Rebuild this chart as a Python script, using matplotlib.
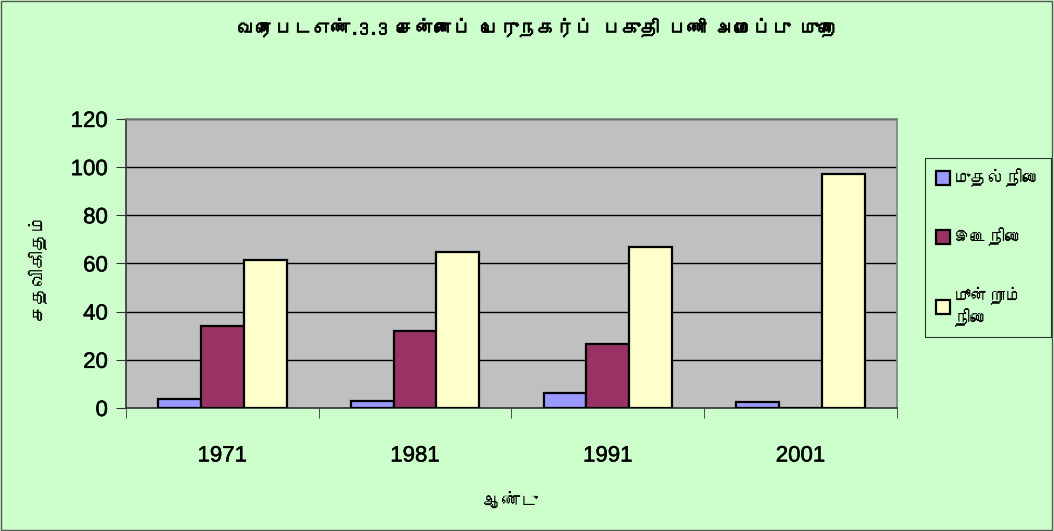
import numpy as np
import matplotlib.pyplot as plt
import matplotlib.patheffects as pe
from matplotlib import font_manager
from matplotlib.ft2font import FT2Font

years = ['1971', '1981', '1991', '2001']
series_names = ['முதல்நிலை', 'இடைநிலை', 'மூன்றாம்\nநிலை']
primary = [3.9, 2.8, 6.2, 2.6]
secondary = [34, 32, 26.5, 0]
tertiary = [61.6, 64.8, 66.8, 97.1]
colors = ['#9999FF', '#993366', '#FFFFCC']

title = 'வரைபடஎண்.3.3 சென்னைப் பெருநகர்ப் பகுதி பணி அமைப்பு முறை'
ylab = 'சதவிகிதம்'
xlab = 'ஆண்டு'


# look for any installed font that has tamil glyphs
def find_tamil():
    for f in font_manager.fontManager.ttflist:
        try:
            ft = FT2Font(f.fname)
            if ft.get_char_index(ord('த')) != 0:
                return f.name
        except Exception:
            pass
    return None


tam = find_tamil()
fams = ([tam] if tam else []) + ['Liberation Sans', 'DejaVu Sans']
plt.rcParams['font.family'] = fams

fig = plt.figure(figsize=(10.54, 5.31), dpi=100, facecolor='#CCFFCC')
fig.patches.append(plt.Rectangle((0.001, 0.002), 0.997, 0.996, transform=fig.transFigure,
                                 fill=False, edgecolor='#555555', lw=1))
ax = fig.add_axes([0.1195, 0.2316, 0.7315, 0.5444])
ax.set_facecolor('#C0C0C0')

x = np.arange(len(years))
w = 0.222
data = [primary, secondary, tertiary]
for i, vals in enumerate(data):
    ax.bar(x + (i - 1) * w, vals, w, color=colors[i], edgecolor='black', lw=1.6,
           label=series_names[i], zorder=3)

ax.set_xlim(-0.5, 3.5)
ax.set_ylim(0, 120)
ax.set_yticks(range(0, 121, 20))
ax.yaxis.grid(True, color='black', lw=1, zorder=1)
ax.set_xticks(x)
ax.set_xticklabels(years, fontsize=16, family=['Liberation Sans'])
ax.set_xticks(np.arange(-0.5, 4, 1), minor=True)
ax.tick_params(axis='x', which='major', length=0, pad=27)
ax.tick_params(axis='x', which='minor', length=7, color='#333333')
ax.tick_params(axis='y', length=7, labelsize=16, color='#333333', pad=6)
thick = [pe.withStroke(linewidth=0.35, foreground='black')]
for lab in ax.get_yticklabels():
    lab.set_family(['Liberation Sans'])
for lab in ax.get_yticklabels() + ax.get_xticklabels():
    lab.set_path_effects(thick)
for s in ax.spines.values():
    s.set_color('#808080')
    s.set_lw(1.2)
ax.spines['left'].set_color('#333333')
ax.spines['bottom'].set_color('#333333')

fig.text(0.51, 0.948, title, ha='center', va='center', fontsize=13.5, weight='bold',
         path_effects=[pe.withStroke(linewidth=0.6, foreground='black')])
fig.text(0.035, 0.5, ylab, rotation=90, ha='center', va='center', fontsize=13)
fig.text(0.485, 0.058, xlab, ha='center', va='center', fontsize=13)

leg = fig.legend(loc='upper left', bbox_to_anchor=(0.878, 0.703), frameon=True,
                 fontsize=12.5, labelspacing=2.35, handlelength=0.8, handleheight=0.85,
                 handletextpad=0.25, borderpad=0.6, borderaxespad=0, fancybox=False)
leg.get_frame().set_edgecolor('black')
leg.get_frame().set_facecolor('#CCFFCC')
leg.get_frame().set_linewidth(0.8)

fig.savefig('out.png', dpi=100, facecolor=fig.get_facecolor())
